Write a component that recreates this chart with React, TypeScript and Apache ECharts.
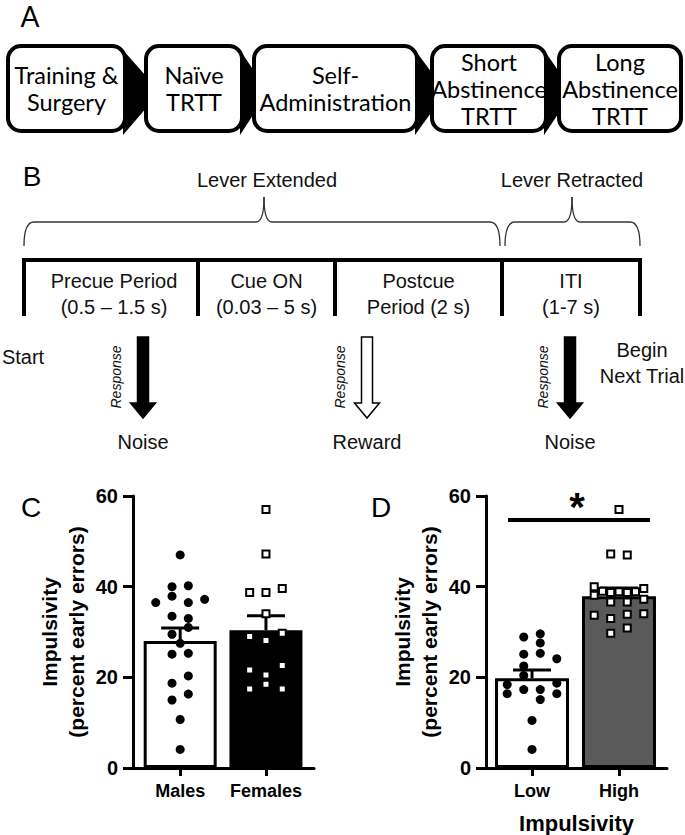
import React, { useEffect, useRef } from "react";
import * as echarts from "echarts";

// ---------------- DATA ----------------
const sexCategories = ["Males", "Females"];
const sexMeans = [28.0, 30.4];
const sexSem = [2.9, 3.2];
const malesValues = [47.0, 40.0, 40.2, 36.5, 37.9, 36.5, 37.2, 33.5, 33.0, 31.0, 29.5, 27.5, 25.1, 25.3, 20.3, 18.7, 16.3, 15.0, 10.7, 4.1];
const malesSlots = [0, -1, 1, -3, -1, 1, 3, -1, 1, 1, -1, 0, -1, 1, 1, -1, 1, -1, 0, 0];
const femalesValues = [57.0, 47.2, 38.7, 38.7, 39.6, 34.0, 29.0, 28.1, 29.7, 21.6, 20.5, 22.6, 17.4, 18.5, 17.4];
const femalesSlots = [0, 0, -2, 0, 2, 0, -2, 0, 2, -2, 0, 2, -2, 0, 2];

const impCategories = ["Low", "High"];
const impMeans = [19.8, 37.9];
const impSem = [1.8, 1.8];
const lowValues = [28.9, 29.6, 27.6, 25.1, 25.3, 24.1, 22.5, 20.4, 18.4, 18.7, 16.4, 17.3, 17.3, 16.4, 15.1, 10.5, 4.1];
const lowSlots = [-1, 1, 1, -1, 1, 3, -1, -1, -3, 3, -3, -1, 1, 3, 1, 0, 0];
const highValues = [57.0, 47.2, 47.0, 40.0, 39.6, 39.0, 38.7, 38.9, 38.7, 38.9, 38.1, 37.2, 36.6, 36.6, 33.7, 33.0, 33.9, 34.0, 30.9, 29.7];
const highSlots = [0, -1, 1, -3, 3, -2, -1, 0, 1, 2, -3, 3, -1, 1, -3, -1, 1, 3, 1, -1];
const significanceLevel = 54.7;
const yTicks = [0, 20, 40, 60];

const timelineSteps = [
  ["Training &", "Surgery"],
  ["Naïve", "TRTT"],
  ["Self-", "Administration"],
  ["Short", "Abstinence", "TRTT"],
  ["Long", "Abstinence", "TRTT"],
];
const trialPeriods = [
  ["Precue Period", "(0.5 – 1.5 s)"],
  ["Cue ON", "(0.03 – 5 s)"],
  ["Postcue", "Period (2 s)"],
  ["ITI", "(1-7 s)"],
];
const leverStates = ["Lever Extended", "Lever Retracted"];
const outcomes = ["Noise", "Reward", "Noise"];

// ---------------- LAYOUT ----------------
const FF = "Arial, Liberation Sans, sans-serif";
const FA = "Lato, Open Sans, sans-serif";
const STEP = 0.095;

const boxGeom = [
  { x: 8, w: 117 },
  { x: 146, w: 96 },
  { x: 254, w: 163 },
  { x: 432, w: 114 },
  { x: 559, w: 122 },
];
const BOX_Y = 46;
const BOX_H = 85;
const cellEdges = [24, 198, 335, 502, 640];
const arrowX = [143, 367, 570];

function braceShapes(x0: number, x1: number, tip: number) {
  const st = { stroke: "#333", lineWidth: 1.3, fill: "transparent" };
  const yl = 222;
  const ye = 246;
  const yt = 197;
  return [
    { type: "bezierCurve", shape: { x1: x0, y1: ye, x2: x0 + 10, y2: yl, cpx1: x0, cpy1: yl }, style: st },
    { type: "line", shape: { x1: x0 + 10, y1: yl, x2: tip - 8, y2: yl }, style: st },
    { type: "bezierCurve", shape: { x1: tip - 8, y1: yl, x2: tip, y2: yt, cpx1: tip, cpy1: yl }, style: st },
    { type: "bezierCurve", shape: { x1: tip, y1: yt, x2: tip + 8, y2: yl, cpx1: tip, cpy1: yl }, style: st },
    { type: "line", shape: { x1: tip + 8, y1: yl, x2: x1 - 10, y2: yl }, style: st },
    { type: "bezierCurve", shape: { x1: x1 - 10, y1: yl, x2: x1, y2: ye, cpx1: x1, cpy1: yl }, style: st },
  ];
}

function arrowShape(c: number, filled: boolean) {
  const top = 337, base = 403, tip = 418, sw = 5.5, hw = 12.5;
  return {
    type: "polygon",
    shape: {
      points: [
        [c - sw, top], [c + sw, top], [c + sw, base], [c + hw, base], [c, tip], [c - hw, base], [c - sw, base],
      ],
    },
    style: { fill: filled ? "#000" : "#fff", stroke: "#000", lineWidth: 1.5 },
  };
}

function txt(text: string, x: number, y: number, size: number, family: string, extra: any = {}) {
  return {
    type: "text",
    x,
    y,
    style: {
      text,
      fontSize: size,
      fontFamily: family,
      fill: "#111",
      textAlign: "center",
      textVerticalAlign: "middle",
      ...extra,
    },
  };
}

function buildGraphics() {
  const g: any[] = [];
  // Panel A
  g.push(txt("A", 30, 16, 28, FA, { fill: "#000" }));
  for (let i = 0; i < boxGeom.length - 1; i++) {
    const l = boxGeom[i].x + boxGeom[i].w - 2;
    const r = boxGeom[i + 1].x + 14;
    g.push({ type: "polygon", shape: { points: [[l, 50], [l, 135], [r, 92]] }, style: { fill: "#000" } });
  }
  boxGeom.forEach((b, i) => {
    g.push({
      type: "rect",
      shape: { x: b.x, y: BOX_Y, width: b.w, height: BOX_H, r: 13 },
      style: { fill: "#fff", stroke: "#000", lineWidth: 4 },
    });
    g.push(txt(timelineSteps[i].join("\n"), b.x + b.w / 2, BOX_Y + BOX_H / 2, 23.5, FA, { lineHeight: 27, fill: "#000" }));
  });

  // Panel B
  g.push(txt("B", 32, 176, 28, FF, { fill: "#000" }));
  g.push(txt(leverStates[0], 267, 180, 20, FF));
  g.push(txt(leverStates[1], 572, 180, 20, FF));
  g.push(...braceShapes(cellEdges[0], cellEdges[3] - 2, 264));
  g.push(...braceShapes(cellEdges[3] + 3, cellEdges[4], 572));
  g.push({ type: "line", shape: { x1: cellEdges[0] - 2, y1: 260, x2: cellEdges[4] + 2, y2: 260 }, style: { stroke: "#000", lineWidth: 4 } });
  cellEdges.forEach((x) => {
    g.push({ type: "line", shape: { x1: x, y1: 260, x2: x, y2: 316 }, style: { stroke: "#000", lineWidth: 4 } });
  });
  trialPeriods.forEach((p, i) => {
    const c = (cellEdges[i] + cellEdges[i + 1]) / 2 + (i === 0 ? 3 : 0);
    g.push(txt(p[0], c, 281, 20, FF));
    g.push(txt(p[1], c, 307, 20, FF));
  });
  g.push(txt("Start", 23, 357, 20, FF));
  g.push(txt("Begin", 642, 350, 20, FF));
  g.push(txt("Next Trial", 642, 376, 20, FF));
  arrowX.forEach((c, i) => {
    g.push(arrowShape(c, i !== 1));
    g.push({
      type: "text",
      x: c - 27,
      y: 377,
      rotation: Math.PI / 2,
      style: {
        text: "Response",
        fontSize: 14,
        fontStyle: "italic",
        fontFamily: FF,
        fill: "#111",
        textAlign: "center",
        textVerticalAlign: "middle",
      },
    });
    g.push(txt(outcomes[i], c, 442, 20, FF));
  });

  // Panels C / D letters
  g.push(txt("C", 31, 507, 28, FF, { fill: "#000" }));
  g.push(txt("D", 381, 507, 28, FF, { fill: "#000" }));
  g.push(txt("*", 577, 507, 40, FF, { fill: "#000", fontWeight: "bold" }));
  return g;
}

function yAxisCfg(gridIndex: number) {
  return {
    type: "value",
    gridIndex,
    min: 0,
    max: 60,
    interval: 20,
    name: "Impulsivity\n(percent early errors)",
    nameLocation: "middle",
    nameRotate: 90,
    nameGap: 43,
    nameTextStyle: { fontFamily: FF, fontWeight: "bold", fontSize: 21, lineHeight: 27, color: "#000" },
    axisLine: { show: true, onZero: false, lineStyle: { color: "#000", width: 3 } },
    axisTick: { show: true, length: 10, lineStyle: { color: "#000", width: 3 } },
    axisLabel: {
      margin: 15,
      fontFamily: FF,
      fontWeight: "bold",
      fontSize: 20,
      color: "#000",
      customValues: yTicks,
    },
    splitLine: { show: false },
  };
}

function xAxisCfg(gridIndex: number, min: number, max: number, cats: string[], name?: string) {
  return {
    type: "value",
    gridIndex,
    min,
    max,
    name: name || "",
    nameLocation: "middle",
    nameGap: 44,
    nameTextStyle: { fontFamily: FF, fontWeight: "bold", fontSize: 22, color: "#000" },
    axisLine: { show: true, onZero: false, lineStyle: { color: "#000", width: 3 } },
    axisTick: { show: true, length: 8, customValues: [0, 1], lineStyle: { color: "#000", width: 3 } },
    axisLabel: {
      customValues: [0, 1],
      formatter: (v: number) => cats[Math.round(v)],
      margin: 14,
      fontFamily: FF,
      fontWeight: "bold",
      fontSize: 18,
      color: "#000",
    },
    splitLine: { show: false },
  };
}

function errorSeries(idx: number, means: number[], sems: number[]) {
  return {
    type: "custom",
    xAxisIndex: idx,
    yAxisIndex: idx,
    z: 3,
    data: means.map((m, i) => [i, m, m + sems[i]]),
    renderItem: (_p: any, api: any) => {
      const x = api.value(0);
      const p0 = api.coord([x, api.value(1)]);
      const p1 = api.coord([x, api.value(2)]);
      return {
        type: "group",
        children: [
          { type: "line", shape: { x1: p0[0], y1: p0[1], x2: p1[0], y2: p1[1] }, style: { stroke: "#000", lineWidth: 3 } },
          { type: "line", shape: { x1: p1[0] - 19, y1: p1[1], x2: p1[0] + 19, y2: p1[1] }, style: { stroke: "#000", lineWidth: 3 } },
        ],
      };
    },
  };
}

function pointsSeries(idx: number, cat: number, values: number[], slots: number[], square: boolean) {
  return {
    type: "scatter",
    xAxisIndex: idx,
    yAxisIndex: idx,
    z: 5,
    symbol: square ? "rect" : "circle",
    symbolSize: square ? 7 : 9,
    itemStyle: square
      ? { color: "#fff", borderColor: "#000", borderWidth: 2, opacity: 1 }
      : { color: "#000", opacity: 1 },
    data: values.map((v, i) => [cat + slots[i] * STEP, v]),
  };
}

export default function App() {
  const ref = useRef<HTMLDivElement>(null);
  useEffect(() => {
    if (!ref.current) return;
    const chart = echarts.init(ref.current, undefined, { renderer: "svg" });
    const option: any = {
      animation: false,
      backgroundColor: "#fff",
      textStyle: { fontFamily: FF },
      grid: [
        { left: 133, top: 496, width: 181, height: 272 },
        { left: 486, top: 496, width: 181, height: 272 },
      ],
      xAxis: [
        xAxisCfg(0, -0.55, 1.56, sexCategories),
        xAxisCfg(1, -0.529, 1.552, impCategories, "Impulsivity"),
      ],
      yAxis: [yAxisCfg(0), yAxisCfg(1)],
      series: [
        {
          type: "bar",
          xAxisIndex: 0,
          yAxisIndex: 0,
          barWidth: 73,
          z: 2,
          data: sexMeans.map((m, i) => ({
            value: [i, m],
            itemStyle: { color: i === 0 ? "#fff" : "#000", borderColor: "#000", borderWidth: 3 },
          })),
        },
        {
          type: "bar",
          xAxisIndex: 1,
          yAxisIndex: 1,
          barWidth: 74,
          z: 2,
          data: impMeans.map((m, i) => ({
            value: [i, m],
            itemStyle: { color: i === 0 ? "#fff" : "#5a5a5a", borderColor: "#000", borderWidth: 3 },
          })),
          markLine: {
            silent: true,
            symbol: ["none", "none"],
            label: { show: false },
            lineStyle: { color: "#000", width: 4, type: "solid" },
            data: [[{ coord: [-0.276, significanceLevel] }, { coord: [1.356, significanceLevel] }]],
          },
        },
        errorSeries(0, sexMeans, sexSem),
        errorSeries(1, impMeans, impSem),
        pointsSeries(0, 0, malesValues, malesSlots, false),
        pointsSeries(0, 1, femalesValues, femalesSlots, true),
        pointsSeries(1, 0, lowValues, lowSlots, false),
        pointsSeries(1, 1, highValues, highSlots, true),
      ],
      graphic: buildGraphics(),
    };
    chart.setOption(option);
    return () => chart.dispose();
  }, []);
  return <div ref={ref} style={{ position: "absolute", left: 0, top: 0, width: 685, height: 835 }} />;
}
